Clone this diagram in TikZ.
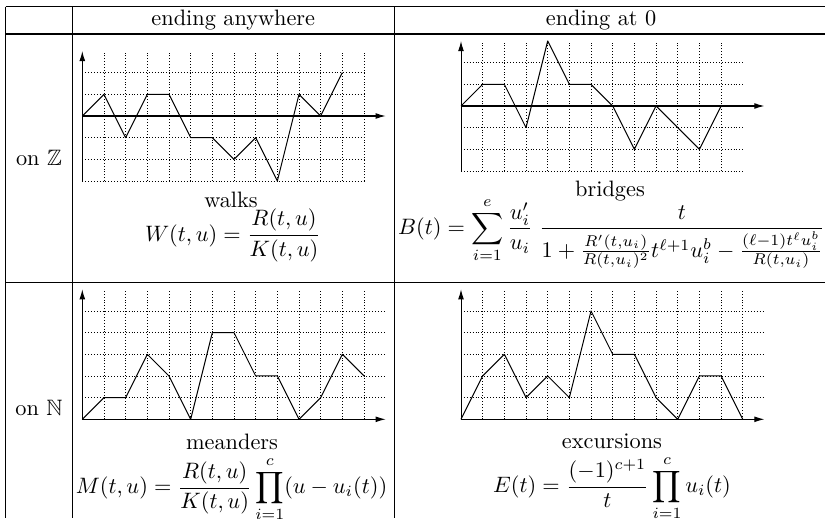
\documentclass[tikz,border=0pt]{standalone}
\usepackage{amssymb}
\usetikzlibrary{arrows.meta}
\begin{document}
\begin{tikzpicture}[x=0.4484pt,y=-0.4484pt,
  tbl/.style={line width=0.45pt},
  gridln/.style={line width=0.4pt, dash pattern=on 0.4pt off 0.9pt},
  axisln/.style={line width=0.45pt,-{Latex[length=4.5pt,width=2.6pt]}},
  pathln/.style={line width=0.45pt, line join=round},
  lbl/.style={inner sep=0pt, anchor=base}]
\useasboundingbox (0,0) rectangle (825,518);
% table rules
\draw[tbl] (5.7,6.7) -- (825,6.7);
\draw[tbl] (5.7,34) -- (825,34);
\draw[tbl] (5.7,282.7) -- (825,282.7);
\draw[tbl] (5.7,6.7) -- (5.7,518);
\draw[tbl] (72.3,6.7) -- (72.3,518);
\draw[tbl] (394.3,6.7) -- (394.3,518);
% headers
\node[lbl] (h1) at (233.3,25.4) {ending anywhere};
\node[lbl] (h2) at (601,25.4) {ending at 0};
\node[lbl] (onZ) at (39,165) {on $\mathbb{Z}$};
\node[lbl] (onN) at (39,415) {on $\mathbb{N}$};
% walks
\begin{scope}[shift={(82.3,116)}, x=9.717pt, y=9.717pt]
  \foreach \i in {1,...,13} \draw[gridln] (\i,-3) -- (\i,2.95);
  \foreach \j in {-3,-2,-1,1,2} \draw[gridln] (0,\j) -- (13,\j);
  \draw[axisln] (0,-3) -- (0,3);
  \draw[axisln] (0,0) -- (14,0);
  \draw[pathln] (0,0) -- (1,1) -- (2,-1) -- (3,1) -- (4,1) -- (5,-1) -- (6,-1) -- (7,-2) -- (8,-1) -- (9,-3) -- (10,1) -- (11,0) -- (12,2);
\end{scope}
% bridges
\begin{scope}[shift={(461,106)}, x=9.717pt, y=9.717pt]
  \foreach \i in {1,...,12} \draw[gridln] (\i,-3) -- (\i,2.95);
  \foreach \j in {-3,-2,-1,1,2} \draw[gridln] (0,\j) -- (13,\j);
  \draw[axisln] (0,-3) -- (0,3);
  \draw[axisln] (0,0) -- (14,0);
  \draw[pathln] (0,0) -- (1,1) -- (2,1) -- (3,-1) -- (4,3) -- (5,1) -- (6,1) -- (7,0) -- (8,-2) -- (9,0) -- (10,-1) -- (11,-2) -- (12,0);
\end{scope}
% meanders
\begin{scope}[shift={(82.3,419.3)}, x=9.717pt, y=9.717pt]
  \foreach \i in {1,...,13} \draw[gridln] (\i,0) -- (\i,5.95);
  \foreach \j in {1,...,5} \draw[gridln] (0,\j) -- (13.95,\j);
  \draw[axisln] (0,0) -- (0,6);
  \draw[axisln] (0,0) -- (14,0);
  \draw[pathln] (0,0) -- (1,1) -- (2,1) -- (3,3) -- (4,2) -- (5,0) -- (6,4) -- (7,4) -- (8,2) -- (9,2) -- (10,0) -- (11,1) -- (12,3) -- (13,2);
\end{scope}
% excursions
\begin{scope}[shift={(461,419.3)}, x=9.717pt, y=9.717pt]
  \foreach \i in {1,...,13} \draw[gridln] (\i,0) -- (\i,5.95);
  \foreach \j in {1,...,5} \draw[gridln] (0,\j) -- (13.95,\j);
  \draw[axisln] (0,0) -- (0,6);
  \draw[axisln] (0,0) -- (14,0);
  \draw[pathln] (0,0) -- (1,2) -- (2,3) -- (3,1) -- (4,2) -- (5,1) -- (6,5) -- (7,3) -- (8,3) -- (9,1) -- (10,0) -- (11,2) -- (12,2) -- (13,0);
\end{scope}
% captions and formulas
\node[lbl] (walks) at (231,207) {walks};
\node[lbl] (wf) at (233,241) {$\displaystyle W(t,u)=\frac{R(t,u)}{K(t,u)}$};
\node[lbl] (bridges) at (610,196) {bridges};
\node[lbl, anchor=base west] (bf) at (397.7,234.5) {$\displaystyle B(t)=\sum_{i=1}^{e}\frac{u_i'}{u_i}\;\frac{t}{1+\frac{R'(t,u_i)}{R(t,u_i)^2}t^{\ell+1}u_i^b-\frac{(\ell-1)t^{\ell}u_i^b}{R(t,u_i)}}$};
\node[lbl] (meanders) at (232,449) {meanders};
\node[lbl] (mf) at (231.5,493.6) {$\displaystyle M(t,u)=\frac{R(t,u)}{K(t,u)}\prod_{i=1}^{c}(u-u_i(t))$};
\node[lbl] (exc) at (612,448) {excursions};
\node[lbl] (ef) at (612,492.6) {$\displaystyle E(t)=\frac{(-1)^{c+1}}{t}\prod_{i=1}^{c}u_i(t)$};
\end{tikzpicture}
\end{document}
